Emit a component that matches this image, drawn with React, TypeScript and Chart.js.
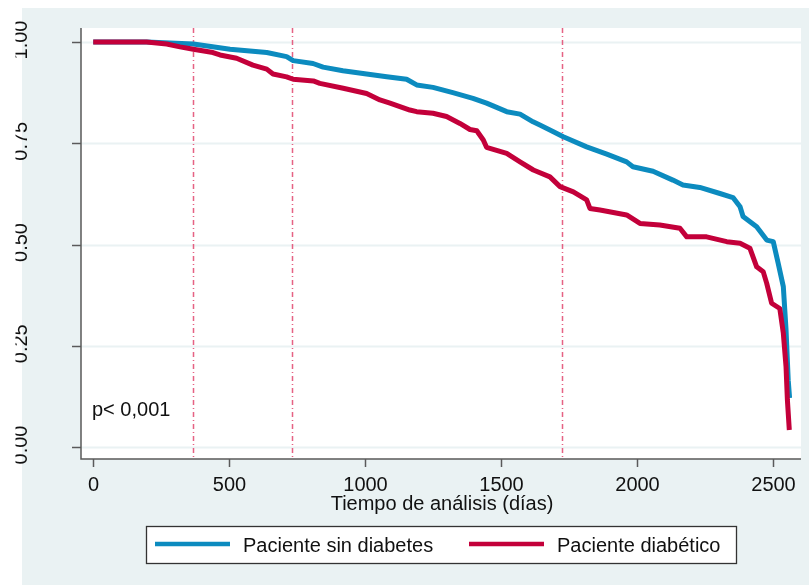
import React, { useEffect, useRef } from "react";
import { Chart, registerables } from "chart.js";

Chart.register(...registerables);

// Kaplan–Meier survival, patients without diabetes
const DAYS_NO_DIAB = [0, 196, 368, 503, 638, 711, 735, 808, 845, 918, 1005, 1079, 1152, 1189, 1249, 1322, 1396, 1446, 1520, 1569, 1617, 1642, 1690, 1728, 1814, 1888, 1961, 1984, 2058, 2131, 2168, 2230, 2304, 2352, 2378, 2389, 2439, 2476, 2500, 2518, 2537, 2547, 2555, 2560];
const SURV_NO_DIAB = [1.0, 1.0, 0.995, 0.982, 0.974, 0.964, 0.954, 0.947, 0.938, 0.929, 0.921, 0.914, 0.908, 0.894, 0.888, 0.875, 0.861, 0.849, 0.828, 0.822, 0.803, 0.795, 0.779, 0.766, 0.741, 0.723, 0.704, 0.692, 0.681, 0.659, 0.647, 0.641, 0.626, 0.616, 0.593, 0.569, 0.544, 0.511, 0.507, 0.454, 0.396, 0.289, 0.165, 0.121];

// Kaplan–Meier survival, diabetic patients
const DAYS_DIAB = [0, 196, 270, 319, 368, 440, 466, 527, 587, 638, 661, 711, 735, 809, 833, 919, 1005, 1054, 1091, 1164, 1189, 1249, 1299, 1348, 1385, 1410, 1434, 1446, 1520, 1569, 1618, 1679, 1716, 1765, 1814, 1826, 1863, 1961, 2010, 2083, 2157, 2182, 2255, 2329, 2378, 2414, 2439, 2463, 2476, 2494, 2524, 2537, 2547, 2552, 2559];
const SURV_DIAB = [1.0, 1.0, 0.995, 0.988, 0.982, 0.974, 0.968, 0.96, 0.943, 0.933, 0.921, 0.914, 0.908, 0.904, 0.898, 0.886, 0.873, 0.857, 0.849, 0.832, 0.828, 0.824, 0.816, 0.799, 0.784, 0.781, 0.758, 0.74, 0.725, 0.704, 0.684, 0.667, 0.643, 0.63, 0.61, 0.589, 0.585, 0.573, 0.552, 0.548, 0.54, 0.519, 0.519, 0.507, 0.503, 0.491, 0.445, 0.433, 0.404, 0.355, 0.342, 0.281, 0.198, 0.116, 0.042];

const X_TICKS = [0, 500, 1000, 1500, 2000, 2500];
const Y_TICKS = [0, 0.25, 0.5, 0.75, 1];
const Y_TICK_LABELS = ["0.00", "0.25", "0.50", "0.75", "1.00"];
const REF_DAYS = [365, 730, 1725];

const SERIES_NAMES = ["Paciente sin diabetes", "Paciente diabético"];
const X_TITLE = "Tiempo de análisis (días)";
const P_TEXT = "p< 0,001";

const BLUE = "#0c8bbf";
const RED = "#c3003a";
const BG = "#eaf2f3";
const AXIS = "#5a5a5a";
const FONT = '20px "Liberation Sans", Arial, sans-serif';

const toPoints = (xs: number[], ys: number[]) => xs.map((x, i) => ({ x, y: ys[i] }));

const decorPlugin = {
  id: "kmDecor",
  beforeDraw(chart: any) {
    const { ctx, width, height } = chart;
    const area = chart.chartArea;
    const xs = chart.scales.x;
    const ys = chart.scales.y;
    ctx.save();
    ctx.fillStyle = "#ffffff";
    ctx.fillRect(0, 0, width, height);
    ctx.fillStyle = BG;
    ctx.fillRect(22, 8, width - 22, height - 8);
    ctx.fillStyle = "#ffffff";
    ctx.fillRect(area.left, area.top, area.right - area.left, area.bottom - area.top);

    // horizontal grid
    ctx.strokeStyle = BG;
    ctx.lineWidth = 2;
    for (const v of Y_TICKS) {
      const y = Math.round(ys.getPixelForValue(v)) + 0.5;
      ctx.beginPath();
      ctx.moveTo(area.left, y);
      ctx.lineTo(area.right, y);
      ctx.stroke();
    }

    // reference lines at selected follow-up times
    ctx.strokeStyle = "rgba(226, 70, 110, 0.85)";
    ctx.lineWidth = 1.5;
    ctx.setLineDash([5, 3, 1, 3]);
    for (const d of REF_DAYS) {
      const x = Math.round(xs.getPixelForValue(d)) + 0.5;
      ctx.beginPath();
      ctx.moveTo(x, area.top);
      ctx.lineTo(x, area.bottom);
      ctx.stroke();
    }
    ctx.setLineDash([]);
    ctx.restore();
  },
  afterDatasetsDraw(chart: any) {
    const { ctx } = chart;
    const area = chart.chartArea;
    const xs = chart.scales.x;
    const ys = chart.scales.y;
    ctx.save();
    ctx.strokeStyle = AXIS;
    ctx.lineWidth = 1.5;

    // axes lines
    ctx.beginPath();
    ctx.moveTo(area.left, area.top);
    ctx.lineTo(area.left, area.bottom);
    ctx.lineTo(area.right, area.bottom);
    ctx.stroke();

    // y ticks and rotated labels
    ctx.fillStyle = "#111";
    ctx.font = FONT;
    Y_TICKS.forEach((v, i) => {
      const y = Math.round(ys.getPixelForValue(v)) + 0.5;
      ctx.beginPath();
      ctx.moveTo(area.left - 9, y);
      ctx.lineTo(area.left, y);
      ctx.stroke();
      ctx.save();
      ctx.beginPath();
      ctx.rect(15.5, 0, 60, chart.height);
      ctx.clip();
      ctx.translate(27, ys.getPixelForValue(v) - 2);
      ctx.rotate(-Math.PI / 2);
      ctx.textAlign = "center";
      ctx.textBaseline = "alphabetic";
      ctx.fillText(Y_TICK_LABELS[i], 0, 0);
      ctx.restore();
    });

    // x ticks and labels
    ctx.textAlign = "center";
    ctx.textBaseline = "alphabetic";
    for (const v of X_TICKS) {
      const x = Math.round(xs.getPixelForValue(v)) + 0.5;
      ctx.beginPath();
      ctx.moveTo(x, area.bottom);
      ctx.lineTo(x, area.bottom + 8);
      ctx.stroke();
      ctx.fillText(String(v), x, 491);
    }
    ctx.fillText(X_TITLE, (area.left + area.right) / 2 + 1, 510);

    // p-value annotation
    ctx.textAlign = "left";
    ctx.fillText(P_TEXT, 92, 416);

    // legend
    ctx.fillStyle = "#ffffff";
    ctx.fillRect(146, 526, 590, 37);
    ctx.strokeStyle = "#333";
    ctx.lineWidth = 1.3;
    ctx.strokeRect(146.5, 526.5, 590, 37);
    const entries = [
      { color: BLUE, x0: 155, x1: 230, tx: 243, label: SERIES_NAMES[0] },
      { color: RED, x0: 469, x1: 544, tx: 557, label: SERIES_NAMES[1] },
    ];
    for (const e of entries) {
      ctx.strokeStyle = e.color;
      ctx.lineWidth = 4.5;
      ctx.beginPath();
      ctx.moveTo(e.x0, 544);
      ctx.lineTo(e.x1, 544);
      ctx.stroke();
      ctx.fillStyle = "#111";
      ctx.fillText(e.label, e.tx, 551.5);
    }
    ctx.restore();
  },
};

export default function App() {
  const canvasRef = useRef<HTMLCanvasElement | null>(null);

  useEffect(() => {
    document.body.style.margin = "0";
    const canvas = canvasRef.current;
    if (!canvas) return;
    const chart = new Chart(canvas, {
      type: "line",
      data: {
        datasets: [
          {
            label: SERIES_NAMES[0],
            data: toPoints(DAYS_NO_DIAB, SURV_NO_DIAB),
            borderColor: BLUE,
            borderWidth: 5,
            pointRadius: 0,
            tension: 0,
            borderJoinStyle: "round",
            order: 2,
          },
          {
            label: SERIES_NAMES[1],
            data: toPoints(DAYS_DIAB, SURV_DIAB),
            borderColor: RED,
            borderWidth: 5,
            pointRadius: 0,
            tension: 0,
            borderJoinStyle: "round",
            order: 1,
          },
        ],
      },
      options: {
        animation: false,
        responsive: false,
        devicePixelRatio: 1,
        layout: { padding: { left: 81, top: 28, right: 8, bottom: 126 } },
        plugins: { legend: { display: false }, tooltip: { enabled: false } },
        scales: {
          x: { type: "linear", min: -45, max: 2602, display: false },
          y: { type: "linear", min: -0.0296, max: 1.0346, display: false },
        },
      },
      plugins: [decorPlugin],
    });
    return () => chart.destroy();
  }, []);

  return <canvas ref={canvasRef} width={809} height={585} style={{ display: "block" }} />;
}
